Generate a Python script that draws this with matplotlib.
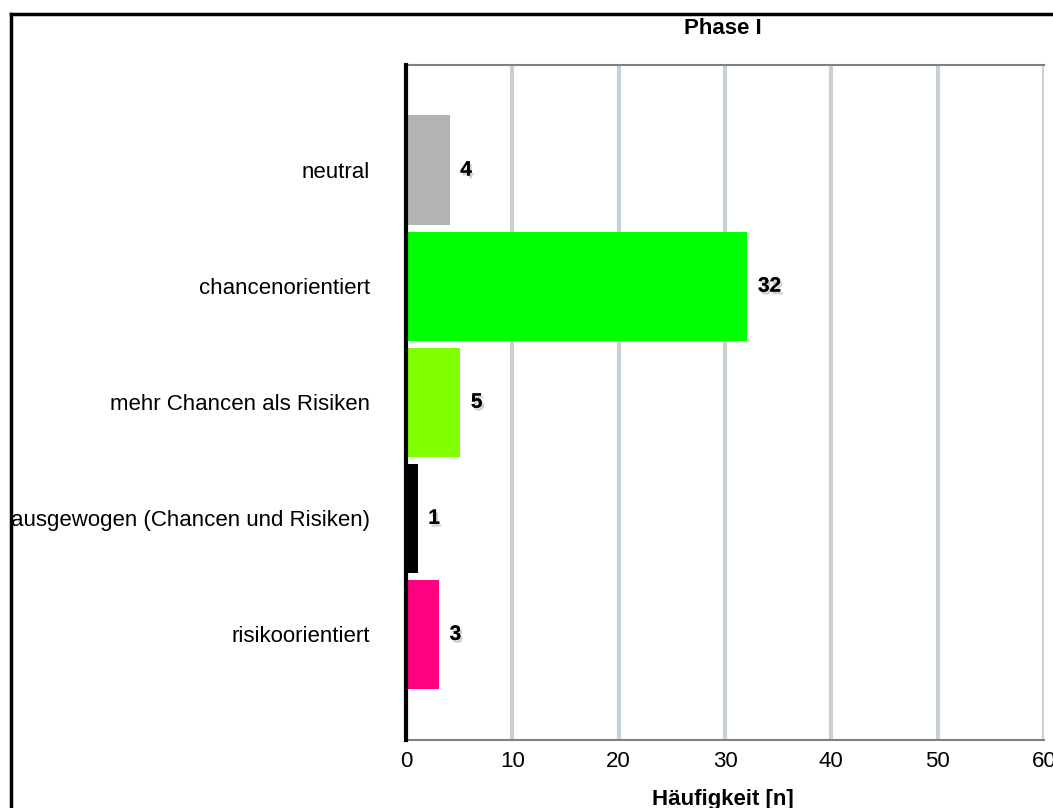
import matplotlib.pyplot as plt
import matplotlib.patheffects as pe
from matplotlib.lines import Line2D

# data (top to bottom)
categories = ['neutral', 'chancenorientiert', 'mehr Chancen als Risiken',
              'ausgewogen (Chancen und Risiken)', 'risikoorientiert']
counts = [4, 32, 5, 1, 3]
colors = ['#b3b3b3', '#00ff00', '#80ff00', '#000000', '#ff0080']

plt.rcParams['font.family'] = ['Liberation Sans', 'DejaVu Sans']

W, H = 1053, 808
fig = plt.figure(figsize=(W / 100, H / 100), dpi=100)
# axes placed in pixel coordinates of the reference
left, right, top, bottom = 406, 1044, 65, 740
ax = fig.add_axes([left / W, 1 - bottom / H, (right - left) / W, (bottom - top) / H])

ypos = list(range(len(categories)))
ax.barh(ypos, counts, height=0.94, color=colors, left=0.1, zorder=3)

shadow = [pe.withSimplePatchShadow(offset=(1.5, -2), shadow_rgbFace='#999999', alpha=0.45), pe.Normal()]
for y, v in zip(ypos, counts):
    ax.text(v + 1.1, y, str(v), ha='left', va='center', fontsize=15,
            fontweight='bold', zorder=4, path_effects=shadow)

ax.set_xlim(0, 60)
ax.set_ylim(4.91, -0.905)
ax.set_xticks(range(0, 61, 10))
ax.set_yticks(ypos)
ax.set_yticklabels(categories, fontsize=16)
ax.tick_params(axis='y', length=0, pad=26)
ax.tick_params(axis='x', length=0, pad=8, labelsize=16)
ax.xaxis.grid(True, color='#c5d0d8', linewidth=3, zorder=0)
ax.set_axisbelow(True)

for s in ['top', 'bottom']:
    ax.spines[s].set_color('#808080')
    ax.spines[s].set_linewidth(1.5)
ax.spines['right'].set_visible(False)
ax.spines['left'].set_color('black')
ax.spines['left'].set_linewidth(3)
ax.spines['left'].set_zorder(5)

fig.text(723 / W, 1 - 29 / H, 'Phase I', ha='center', va='center',
         fontsize=16, fontweight='bold')
fig.text(723 / W, 1 - 800 / H, 'Häufigkeit [n]', ha='center', va='center',
         fontsize=16, fontweight='bold')

# outer frame (cropped)
fig.add_artist(Line2D([11 / W, 11 / W], [0, 1 - 14 / H], color='black', linewidth=2.5))
fig.add_artist(Line2D([11 / W, 1], [1 - 14 / H, 1 - 14 / H], color='black', linewidth=2.5))

fig.savefig('out.png', dpi=100)
